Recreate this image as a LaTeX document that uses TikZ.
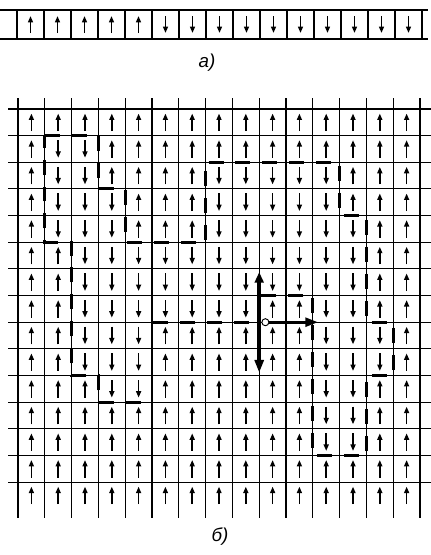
\documentclass[tikz,border=0pt]{standalone}
\usepackage{fontspec}
\setsansfont{Liberation Sans}
\usetikzlibrary{arrows.meta}

\begin{document}
\begin{tikzpicture}[
  x=0.03cm, y=-0.03cm,
  grd/.style={line width=0.9pt},
  spin/.style={-{Triangle[length=5.5pt,width=4.2pt]}, line width=1.5pt},
  wall/.style={line width=2.5pt, dash pattern=on 12.8pt off 10.2pt},
  big/.style={line width=3.3pt},
  lbl/.style={font=\fontsize{16}{18}\selectfont\sffamily\itshape}
]
  \useasboundingbox (0,0) rectangle (431,555);

  % a) one row of spins
  \draw[grd] (0,10) -- (428,10) (0,39) -- (428,39);
  \foreach \k in {0,...,15}
    \draw[grd] (17+27*\k,10) -- (17+27*\k,39);
  \foreach \k in {0,...,14}{
    \pgfmathsetmacro\s{\k<5 ? 1 : -1}
    \draw[spin] (30.5+27*\k,{24.5+8.5*\s}) -- (30.5+27*\k,{24.5-8.5*\s});
  }
  \node[lbl] (lbla) at (207,63) {a)};

  % b) the lattice, one unit = one cell
  \begin{scope}[shift={(18,109)}, x=0.804cm, y=-0.7995cm]
    \foreach \j in {0,...,14}
      \draw[grd] (-0.37,\j) -- (15.4,\j);
    \foreach \i in {0,...,15}
      \draw[grd] (\i,-0.41) -- (\i,15.35);

    % 1 = up, -1 = down
    \foreach \r/\row in {
      1/{1,1,1,1,1,1,1,1,1,1,1,1,1,1,1},
      2/{1,-1,-1,1,1,1,1,1,1,1,1,1,1,1,1},
      3/{1,-1,-1,1,1,1,1,-1,-1,-1,-1,-1,1,1,1},
      4/{1,-1,-1,-1,1,1,1,-1,-1,-1,-1,-1,1,1,1},
      5/{1,-1,-1,-1,1,1,1,-1,-1,-1,-1,-1,-1,1,1},
      6/{1,1,-1,-1,-1,-1,-1,-1,-1,-1,-1,-1,-1,1,1},
      7/{1,1,-1,-1,-1,-1,-1,-1,-1,-1,-1,-1,-1,1,1},
      8/{1,1,-1,-1,-1,-1,-1,-1,-1,1,1,-1,-1,1,1},
      9/{1,1,-1,-1,-1,1,1,1,1,1,1,-1,-1,-1,1},
      10/{1,1,-1,-1,-1,1,1,1,1,1,1,-1,-1,-1,1},
      11/{1,1,1,-1,-1,1,1,1,1,1,1,-1,-1,1,1},
      12/{1,1,1,1,1,1,1,1,1,1,1,-1,-1,1,1},
      13/{1,1,1,1,1,1,1,1,1,1,1,-1,-1,1,1},
      14/{1,1,1,1,1,1,1,1,1,1,1,1,1,1,1},
      15/{1,1,1,1,1,1,1,1,1,1,1,1,1,1,1}}{
      \foreach \s [count=\c] in \row
        \draw[spin] (\c-0.5,{\r-0.5+0.33*(\s)}) -- (\c-0.5,{\r-0.5-0.33*(\s)});
    }

    % domain wall
    \draw[wall] (1,1) -- (3,1) -- (3,3) -- (4,3) -- (4,5) -- (7,5) -- (7,2)
      -- (12,2) -- (12,4) -- (13,4) -- (13,8) -- (14,8) -- (14,10) -- (13,10)
      -- (13,13) -- (11,13) -- (11,7) -- (9,7) -- (9,8) -- (5,8) -- (5,11)
      -- (3,11) -- (3,10) -- (2,10) -- (2,5) -- (1,5) -- cycle;

    % flip of the wall
    \coordinate (vtop) at (9,6.12);
    \coordinate (vbot) at (9,9.9);
    \draw[big, {Triangle[length=9pt,width=7.5pt]}-{Triangle[length=11pt,width=7.5pt]}] (vtop) -- (vbot);
    \node[circle, draw, fill=white, line width=0.8pt, inner sep=0pt, minimum size=6pt] (ctr) at (9.23,8) {};
    \coordinate (tip) at (11.2,8);
    \draw[big, line width=2.6pt, -{Triangle[length=11pt,width=7.5pt]}] (ctr) -- (tip);
  \end{scope}
  \node[lbl] (lblb) at (220,537) {б)};
\end{tikzpicture}
\end{document}
